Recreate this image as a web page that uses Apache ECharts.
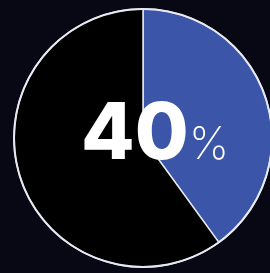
<!DOCTYPE html>
<html><head><meta charset="utf-8">
<script src="https://cdn.jsdelivr.net/npm/echarts@6/dist/echarts.min.js"></script>
<style>html,body{margin:0;padding:0;background:#080815;}#c{width:270px;height:273px;}</style>
</head><body><div id="c"></div>
<script>
var categories = ['Share', 'Rest'];
var values = [40, 60];
var colors = ['#3b55a8', '#000000'];
var chart = echarts.init(document.getElementById('c'), null, {renderer: 'canvas'});
chart.setOption({
  backgroundColor: '#080815',
  animation: false,
  series: [{
    type: 'pie',
    center: [143, 138],
    radius: [0, 129],
    startAngle: 90,
    clockwise: true,
    label: {show: false},
    labelLine: {show: false},
    silent: true,
    itemStyle: {borderColor: '#e6e6ee', borderWidth: 1.5},
    data: categories.map(function (c, i) {
      return {name: c, value: values[i], itemStyle: {color: colors[i]}};
    })
  }, {
    type: 'pie',
    center: [143, 138],
    radius: [128, 130],
    silent: true,
    label: {show: false},
    labelLine: {show: false},
    itemStyle: {color: '#e8e8f0'},
    data: [{value: 1}]
  }],
  graphic: [{
    type: 'text',
    z: 100,
    left: 81,
    top: 97,
    style: {
      text: String(values[0]),
      fontFamily: 'Inter', fontWeight: 800, fontSize: 78, fill: '#ffffff'
    }
  }, {
    type: 'text',
    z: 100,
    left: 189,
    top: 123,
    style: {
      text: '%',
      fontFamily: 'Inter', fontWeight: 200, fontSize: 45, fill: '#ffffff'
    }
  }]
});
</script></body></html>
